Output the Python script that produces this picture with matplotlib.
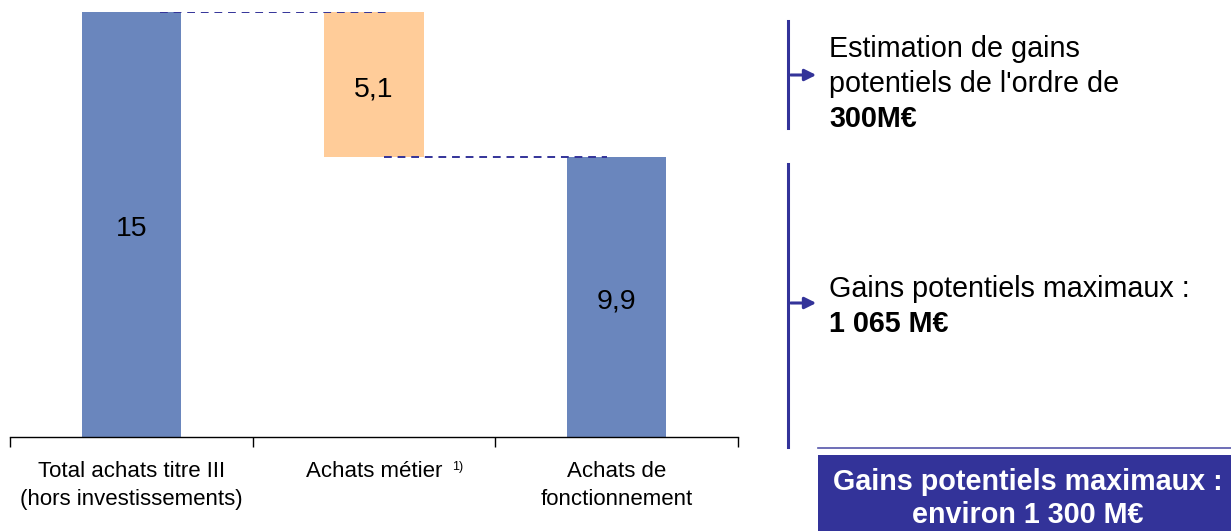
import matplotlib.pyplot as plt
from matplotlib.patches import Rectangle, FancyArrowPatch
from matplotlib.lines import Line2D

plt.rcParams['font.family'] = ['Liberation Sans', 'DejaVu Sans']

# données (Md€)
categories = ['Total achats titre III\n(hors investissements)', 'Achats métier',
              'Achats de\nfonctionnement']
total = 15.0
metier = 5.1
fonctionnement = 9.9
labels = ['15', '5,1', '9,9']

bleu = '#6a86bd'
orange = '#ffcc99'
marine = '#333399'

W, H = 1231, 531
fig = plt.figure(figsize=(W / 100, H / 100), dpi=100)


def fx(px):
    return px / W


def fy(py):
    return 1 - py / H


ax = fig.add_axes([fx(10), fy(437), fx(738) - fx(10), fy(12) - fy(437)])

largeur = 0.41
bottoms = [0, fonctionnement, 0]
heights = [total, metier, fonctionnement]
colors = [bleu, orange, bleu]
bars = ax.bar(range(3), heights, bottom=bottoms, width=largeur, color=colors, zorder=2)

for i, (b, h, lab) in enumerate(zip(bottoms, heights, labels)):
    ax.annotate(lab, xy=(i, b + h / 2), xytext=(0, -5), textcoords='offset pixels',
                ha='center', va='center', fontsize=20.5, zorder=4)

# lignes pointillées de liaison
ax.plot([0.12, 1.05], [total, total], ls=(0, (4, 3)), color=marine, lw=1.4, zorder=3)
ax.plot([1.04, 1.96], [fonctionnement, fonctionnement], ls=(0, (4, 3)), color=marine,
        lw=1.4, zorder=3)

ax.set_xlim(-0.5, 2.5)
ax.set_ylim(0, 15)
for s in ['top', 'right', 'left']:
    ax.spines[s].set_visible(False)
ax.spines['bottom'].set_linewidth(1)
ax.set_yticks([])
ax.set_xticks(range(3))
ax.set_xticklabels(categories, fontsize=16, linespacing=1.45)
ax.tick_params(axis='x', which='major', length=0, pad=17)
ax.set_xticks([-0.5, 0.5, 1.5, 2.5], minor=True)
ax.tick_params(axis='x', which='minor', length=7, width=1, direction='out')

ax.annotate('1)', xy=(1, 0), xycoords=('data', 'axes fraction'),
            xytext=(78, -30), textcoords='offset pixels', fontsize=9, va='center')

# partie droite
fig.add_artist(Line2D([fx(788), fx(788)], [fy(21), fy(128)], color=marine, lw=2.2))
fig.add_artist(Line2D([fx(788), fx(788)], [fy(164), fy(447)], color=marine, lw=2.2))
for yy in [75, 303]:
    fig.add_artist(FancyArrowPatch((fx(788), fy(yy)), (fx(819), fy(yy)),
                                   transform=fig.transFigure, arrowstyle='-|>',
                                   mutation_scale=17, color=marine, lw=2.2))

fs = 20.7
fig.text(fx(829), fy(57), 'Estimation de gains', fontsize=fs, va='baseline')
fig.text(fx(829), fy(92), "potentiels de l'ordre de", fontsize=fs, va='baseline')
fig.text(fx(829), fy(127), '300M€', fontsize=fs, va='baseline', fontweight='bold')
fig.text(fx(829), fy(297), 'Gains potentiels maximaux :', fontsize=fs, va='baseline')
fig.text(fx(829), fy(332), '1 065 M€', fontsize=fs, va='baseline', fontweight='bold')

fig.add_artist(Line2D([fx(818), fx(1231)], [fy(448), fy(448)], color='#5555aa', lw=1.2))
fig.add_artist(Rectangle((fx(818), 0), fx(1231) - fx(818), fy(455), transform=fig.transFigure,
                         facecolor=marine, edgecolor='none'))
fig.text(fx(1028), fy(490), 'Gains potentiels maximaux :', fontsize=fs, va='baseline',
         ha='center', color='white', fontweight='bold')
fig.text(fx(1028), fy(523), 'environ 1 300 M€', fontsize=fs, va='baseline',
         ha='center', color='white', fontweight='bold')

plt.savefig('out.png', dpi=100)
